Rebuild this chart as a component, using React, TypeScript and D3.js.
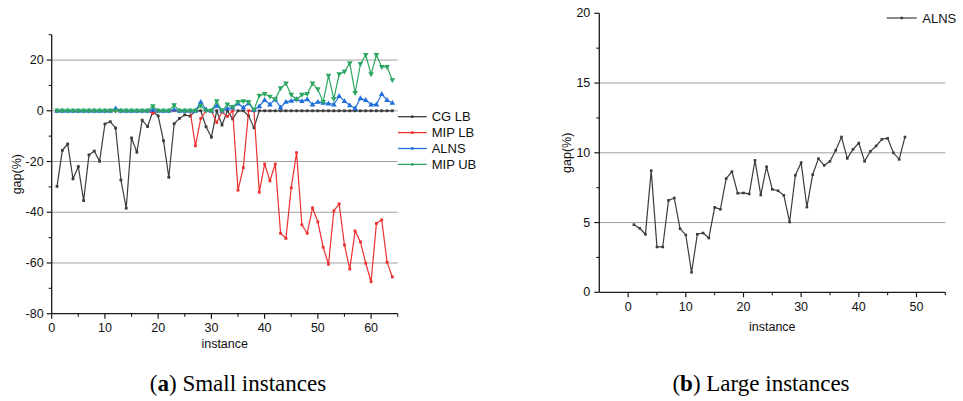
import React from 'react';
import * as d3 from 'd3';

// ---------- data ----------
const cgLB = [
  -29.8, -15.6, -13.1, -26.8, -22.0, -35.4, -17.4, -15.9, -19.9, -5.2,
  -4.3, -6.8, -27.3, -38.4, -10.7, -16.3, -3.7, -6.2, -0.4, -2.0,
  -11.8, -26.2, -5.1, -3.0, -1.6, -2.1, 0, 0, -6.3, -10.4,
  0, -5.6, 0, -3.2, 0, 0, -2.0, -6.7, 0, 0,
  0, 0, 0, 0, 0, 0, 0, 0, 0, 0,
  0, 0, 0, 0, 0, 0, 0, 0, 0, 0,
  0, 0, 0, 0,
];
const mipLB = [
  0, 0, 0, 0, 0, 0, 0, 0, 0, 0,
  0, 0, 0, 0, 0, 0, 0, 0, -1.0, 0,
  0, 0, 0, 0, 0, 0, -13.8, -3.0, 0, 0,
  -4.6, -0.5, -2.2, 0, -31.3, -22.4, 0, 0, -32.1, -21.0,
  -27.6, -21.0, -48.3, -50.3, -30.4, -16.5, -45.0, -48.3, -38.3, -43.8,
  -53.8, -60.5, -39.5, -36.7, -52.9, -62.4, -47.4, -51.7, -60.1, -67.4,
  -44.4, -43.0, -59.7, -65.5,
];
const alnsSmall = [
  0, 0, 0, 0, 0, 0, 0, 0, 0, 0,
  0, 0.9, 0, 0, 0, 0, 0, 0, 0.5, 0,
  0, 0, 0.5, 0, 0, 0, 0, 3.5, 0.5, 0,
  2.0, 0, 1.0, 1.3, 2.9, 1.3, 3.0, 0.3, 1.8, 4.2,
  2.5, 4.5, 1.3, 3.5, 3.9, 4.5, 3.8, 4.5, 2.5, 3.5,
  3.1, 2.9, 2.5, 5.8, 3.8, 2.2, 1.0, 4.9, 4.2, 2.5,
  2.5, 6.6, 4.2, 3.1,
];
const mipUB = [
  0, 0, 0, 0, 0, 0, 0, 0, 0, 0,
  0, 0, 0, 0, 0, 0, 0, 0, 1.8, 0,
  0, 0, 2.2, 0, 0, 0, 0, 2.0, 0, 0,
  3.8, 0, 2.5, 1.5, 3.5, 3.8, 3.5, 0.3, 6.0, 6.6,
  5.6, 4.5, 8.9, 10.8, 6.3, 4.5, 6.3, 6.6, 10.8, 8.5,
  3.5, 13.8, 4.7, 14.4, 15.4, 18.8, 7.0, 18.5, 22.0, 14.4,
  22.0, 17.3, 17.3, 12.1,
];
const alnsLarge = [
  4.85, 4.59, 4.16, 8.72, 3.25, 3.25, 6.59, 6.76, 4.56, 4.11,
  1.43, 4.16, 4.25, 3.89, 6.09, 5.95, 8.15, 8.65, 7.10, 7.12,
  7.05, 9.46, 6.97, 9.0, 7.38, 7.28, 6.95, 5.04, 8.39, 9.29,
  6.11, 8.43, 9.58, 9.10, 9.39, 10.18, 11.13, 9.60, 10.25, 10.70,
  9.39, 10.10, 10.49, 10.97, 11.04, 10.0, 9.53, 11.13,
];

const smallSeries = [
  { name: 'CG LB', values: cgLB, color: '#3c3c3c', marker: 'square' },
  { name: 'MIP LB', values: mipLB, color: '#ee3030', marker: 'square' },
  { name: 'ALNS', values: alnsSmall, color: '#1f6fdd', marker: 'tri-up' },
  { name: 'MIP UB', values: mipUB, color: '#2da862', marker: 'tri-down' },
];

const leftXTicks = [0, 10, 20, 30, 40, 50, 60];
const leftYTicks = [-80, -60, -40, -20, 0, 20];
const rightXTicks = [0, 10, 20, 30, 40, 50];
const rightYTicks = [0, 5, 10, 15, 20];

const FONT = '"Liberation Sans", Arial, sans-serif';
const SERIF = '"Liberation Serif", "Times New Roman", serif';

function Marker({ x, y, type, color, s = 3 }: any) {
  if (type === 'square') {
    return <rect x={x - s / 2} y={y - s / 2} width={s} height={s} fill={color} />;
  }
  const h = s * 1.2;
  if (type === 'tri-up') {
    return <path d={`M${x},${y - h * 0.7}L${x + h * 0.65},${y + h * 0.45}L${x - h * 0.65},${y + h * 0.45}Z`} fill={color} />;
  }
  return <path d={`M${x},${y + h * 0.7}L${x + h * 0.65},${y - h * 0.45}L${x - h * 0.65},${y - h * 0.45}Z`} fill={color} />;
}

export default function App() {
  // left panel scales
  const xL = d3.scaleLinear().domain([0, 65]).range([51.7, 397.7]);
  const yL = d3.scaleLinear().domain([-80, 30]).range([313.7, 34.7]);
  // right panel scales
  const xR = d3.scaleLinear().domain([-5, 55]).range([599.3, 945.3]);
  const yR = d3.scaleLinear().domain([0, 20]).range([292.3, 13.3]);

  const lineL = (vals: number[]) =>
    d3.line<number>().x((_, i) => xL(i + 1)).y((v) => yL(v))(vals) as string;
  const lineR = d3.line<number>().x((_, i) => xR(i + 1)).y((v) => yR(v));

  const leftMinorY = d3.range(-70, 31, 20);
  const leftMinorX = d3.range(5, 66, 10);
  const rightMinorY = [2.5, 7.5, 12.5, 17.5];
  const rightMinorX = d3.range(5, 56, 10);

  const gridColor = '#a0a0a0';
  const axisColor = '#1a1a1a';

  return (
    <svg width={963} height={401} style={{ position: 'absolute', left: 0, top: 0, background: '#fff' }}>
      {/* ===== LEFT PANEL ===== */}
      <g>
        {[-60, -40, -20, 0, 20].map((t) => (
          <line key={'gl' + t} x1={xL(0)} x2={xL(65)} y1={yL(t)} y2={yL(t)} stroke={gridColor} strokeWidth={1} />
        ))}
        {smallSeries.map((s) => (
          <g key={s.name}>
            <path d={lineL(s.values)} fill="none" stroke={s.color} strokeWidth={1.2} />
            {s.values.map((v, i) => (
              <Marker key={i} x={xL(i + 1)} y={yL(v)} type={s.marker} color={s.color} s={s.marker === 'square' ? 2.8 : 3.6} />
            ))}
          </g>
        ))}
        <line x1={xL(0)} x2={xL(0)} y1={yL(-80)} y2={yL(30)} stroke={axisColor} strokeWidth={1.3} />
        <line x1={xL(0)} x2={xL(65)} y1={yL(-80)} y2={yL(-80)} stroke={axisColor} strokeWidth={1.3} />
        {leftYTicks.map((t) => (
          <g key={'ly' + t}>
            <line x1={xL(0) - 5} x2={xL(0)} y1={yL(t)} y2={yL(t)} stroke={axisColor} strokeWidth={1.2} />
            <text x={xL(0) - 8} y={yL(t)} textAnchor="end" dominantBaseline="central" fontFamily={FONT} fontSize={12.5} fill="#111">{t}</text>
          </g>
        ))}
        {leftMinorY.map((t) => (
          <line key={'lmy' + t} x1={xL(0) - 3} x2={xL(0)} y1={yL(t)} y2={yL(t)} stroke={axisColor} strokeWidth={1.1} />
        ))}
        {leftXTicks.map((t) => (
          <g key={'lx' + t}>
            <line x1={xL(t)} x2={xL(t)} y1={yL(-80)} y2={yL(-80) + 5} stroke={axisColor} strokeWidth={1.2} />
            <text x={xL(t)} y={yL(-80) + 14} textAnchor="middle" dominantBaseline="central" fontFamily={FONT} fontSize={12.5} fill="#111">{t}</text>
          </g>
        ))}
        {leftMinorX.map((t) => (
          <line key={'lmx' + t} x1={xL(t)} x2={xL(t)} y1={yL(-80)} y2={yL(-80) + 3} stroke={axisColor} strokeWidth={1.1} />
        ))}
        <text x={(xL(0) + xL(65)) / 2} y={343.5} textAnchor="middle" dominantBaseline="central" fontFamily={FONT} fontSize={12.5} fill="#111">instance</text>
        <text transform={`translate(17,${(yL(-80) + yL(30)) / 2}) rotate(-90)`} textAnchor="middle" dominantBaseline="central" fontFamily={FONT} fontSize={12.5} fill="#111">gap(%)</text>
        {smallSeries.map((s, i) => {
          const ly = 116.7 + i * 15.9;
          return (
            <g key={'lg' + s.name}>
              <line x1={398} x2={426.7} y1={ly} y2={ly} stroke={s.color} strokeWidth={1.3} />
              <Marker x={412.3} y={ly} type="square" color={s.color} s={2.5} />
              <text x={431.7} y={ly} dominantBaseline="central" fontFamily={FONT} fontSize={13} fill="#111">{s.name}</text>
            </g>
          );
        })}
      </g>

      {/* ===== RIGHT PANEL ===== */}
      <g>
        {[5, 10, 15].map((t) => (
          <line key={'gr' + t} x1={xR(-5)} x2={xR(55)} y1={yR(t)} y2={yR(t)} stroke={gridColor} strokeWidth={1} />
        ))}
        <path d={lineR(alnsLarge) as string} fill="none" stroke="#3c3c3c" strokeWidth={1.2} />
        {alnsLarge.map((v, i) => (
          <Marker key={'rm' + i} x={xR(i + 1)} y={yR(v)} type="square" color="#3c3c3c" s={2.6} />
        ))}
        <line x1={xR(-5)} x2={xR(-5)} y1={yR(0)} y2={yR(20)} stroke={axisColor} strokeWidth={1.3} />
        <line x1={xR(-5)} x2={xR(55)} y1={yR(0)} y2={yR(0)} stroke={axisColor} strokeWidth={1.3} />
        {rightYTicks.map((t) => (
          <g key={'ry' + t}>
            <line x1={xR(-5) - 5} x2={xR(-5)} y1={yR(t)} y2={yR(t)} stroke={axisColor} strokeWidth={1.2} />
            <text x={xR(-5) - 9} y={yR(t)} textAnchor="end" dominantBaseline="central" fontFamily={FONT} fontSize={12.5} fill="#111">{t}</text>
          </g>
        ))}
        {rightMinorY.map((t) => (
          <line key={'rmy' + t} x1={xR(-5) - 3} x2={xR(-5)} y1={yR(t)} y2={yR(t)} stroke={axisColor} strokeWidth={1.1} />
        ))}
        {rightXTicks.map((t) => (
          <g key={'rx' + t}>
            <line x1={xR(t)} x2={xR(t)} y1={yR(0)} y2={yR(0) + 5} stroke={axisColor} strokeWidth={1.2} />
            <text x={xR(t)} y={yR(0) + 15} textAnchor="middle" dominantBaseline="central" fontFamily={FONT} fontSize={12.5} fill="#111">{t}</text>
          </g>
        ))}
        {rightMinorX.map((t) => (
          <line key={'rmx' + t} x1={xR(t)} x2={xR(t)} y1={yR(0)} y2={yR(0) + 3} stroke={axisColor} strokeWidth={1.1} />
        ))}
        <text x={(xR(-5) + xR(55)) / 2} y={327} textAnchor="middle" dominantBaseline="central" fontFamily={FONT} fontSize={12.5} fill="#111">instance</text>
        <text transform={`translate(567,${(yR(0) + yR(20)) / 2}) rotate(-90)`} textAnchor="middle" dominantBaseline="central" fontFamily={FONT} fontSize={12.5} fill="#111">gap(%)</text>
        <line x1={886.7} x2={916.7} y1={18} y2={18} stroke="#3c3c3c" strokeWidth={1.2} />
        <Marker x={901.7} y={18} type="square" color="#3c3c3c" s={2.5} />
        <text x={922.3} y={18} dominantBaseline="central" fontFamily={FONT} fontSize={13} fill="#111">ALNS</text>
      </g>

      {/* captions */}
      <text x={238} y={391} textAnchor="middle" fontFamily={SERIF} fontSize={23} fill="#000">
        (<tspan fontWeight="bold">a</tspan>) Small instances
      </text>
      <text x={761} y={391} textAnchor="middle" fontFamily={SERIF} fontSize={23} fill="#000">
        (<tspan fontWeight="bold">b</tspan>) Large instances
      </text>
    </svg>
  );
}
